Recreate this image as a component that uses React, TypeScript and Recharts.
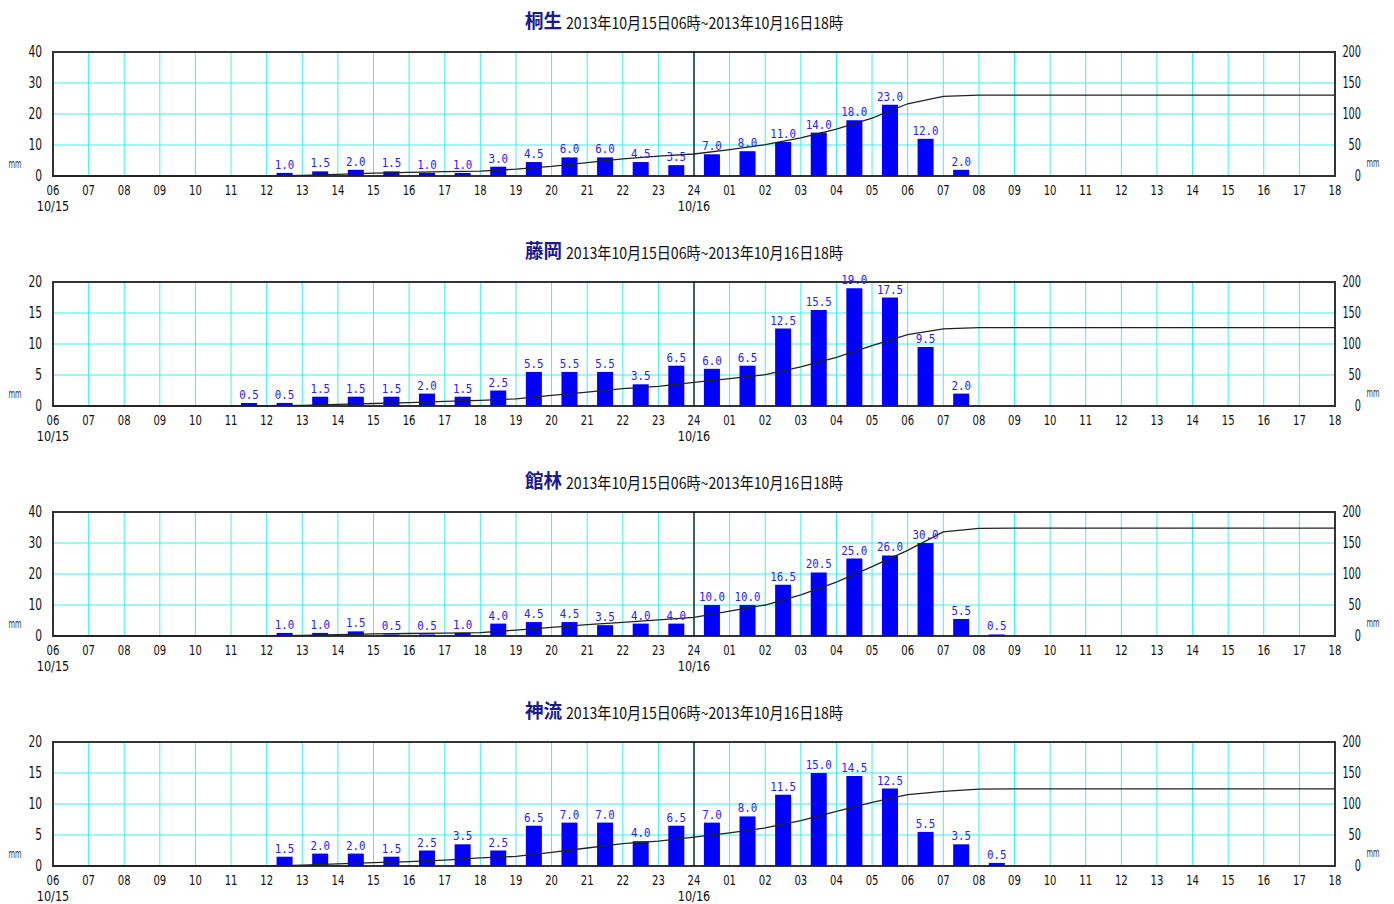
import React from "react";
import {
  ComposedChart,
  Bar,
  Line,
  XAxis,
  YAxis,
  CartesianGrid,
  ReferenceLine,
  ReferenceArea,
  LabelList,
} from "recharts";

// hour boundaries, 10/15 06時 .. 10/16 18時
const HOUR_LABELS = [
  "06", "07", "08", "09", "10", "11", "12", "13", "14", "15", "16", "17",
  "18", "19", "20", "21", "22", "23", "24", "01", "02", "03", "04", "05",
  "06", "07", "08", "09", "10", "11", "12", "13", "14", "15", "16", "17", "18",
];
const DATE_LABELS: Record<number, string> = { 0: "10/15", 18: "10/16" };
const HOUR_TICKS = HOUR_LABELS.map((_, i) => i);

// hourly rainfall (mm), one value per hour bin
const KIRYU = [
  0, 0, 0, 0, 0, 0, 1.0, 1.5, 2.0, 1.5, 1.0, 1.0,
  3.0, 4.5, 6.0, 6.0, 4.5, 3.5, 7.0, 8.0, 11.0, 14.0, 18.0, 23.0,
  12.0, 2.0, 0, 0, 0, 0, 0, 0, 0, 0, 0, 0,
];
const FUJIOKA = [
  0, 0, 0, 0, 0, 0.5, 0.5, 1.5, 1.5, 1.5, 2.0, 1.5,
  2.5, 5.5, 5.5, 5.5, 3.5, 6.5, 6.0, 6.5, 12.5, 15.5, 19.0, 17.5,
  9.5, 2.0, 0, 0, 0, 0, 0, 0, 0, 0, 0, 0,
];
const TATEBAYASHI = [
  0, 0, 0, 0, 0, 0, 1.0, 1.0, 1.5, 0.5, 0.5, 1.0,
  4.0, 4.5, 4.5, 3.5, 4.0, 4.0, 10.0, 10.0, 16.5, 20.5, 25.0, 26.0,
  30.0, 5.5, 0.5, 0, 0, 0, 0, 0, 0, 0, 0, 0,
];
const KANNA = [
  0, 0, 0, 0, 0, 0, 1.5, 2.0, 2.0, 1.5, 2.5, 3.5,
  2.5, 6.5, 7.0, 7.0, 4.0, 6.5, 7.0, 8.0, 11.5, 15.0, 14.5, 12.5,
  5.5, 3.5, 0.5, 0, 0, 0, 0, 0, 0, 0, 0, 0,
];

const LEFT_TICKS_40 = [0, 10, 20, 30, 40];
const LEFT_TICKS_20 = [0, 5, 10, 15, 20];
const RIGHT_TICKS = [0, 50, 100, 150, 200];

const PERIOD = "2013年10月15日06時~2013年10月16日18時";

const STATIONS = [
  { name: "桐生", rain: KIRYU, ticks: LEFT_TICKS_40 },
  { name: "藤岡", rain: FUJIOKA, ticks: LEFT_TICKS_20 },
  { name: "館林", rain: TATEBAYASHI, ticks: LEFT_TICKS_40 },
  { name: "神流", rain: KANNA, ticks: LEFT_TICKS_20 },
];

const AXIS_FONT = "'DejaVu Sans Condensed', 'Liberation Sans', sans-serif";
const CJK_FONT = "'Noto Sans CJK JP', 'Noto Sans CJK SC', sans-serif";
const W = 1394;
const H = 218;

// bars sit at bin centres, the running total at the bin edges
const buildData = (rain: number[]) => {
  const rows: { x: number; rain?: number; cum?: number }[] = [{ x: 0, cum: 0 }];
  let total = 0;
  rain.forEach((r, i) => {
    rows.push({ x: i + 0.5, rain: r });
    total += r;
    rows.push({ x: i + 1, cum: total });
  });
  return rows;
};

// narrow bitmap-ish digits: squeeze text to a fixed width per char
const AxisText = ({
  x, y, anchor, size, perChar, children,
}: { x: number; y: number; anchor: "start" | "middle" | "end"; size: number; perChar: number; children: string }) => (
  <text
    x={x}
    y={y}
    textAnchor={anchor}
    fontFamily={AXIS_FONT}
    fontSize={size}
    fill="#111"
    textLength={children.length * perChar}
    lengthAdjust="spacingAndGlyphs"
  >
    {children}
  </text>
);

const hourTick = (props: any) => {
  const { x, payload } = props;
  const date = DATE_LABELS[payload.value];
  return (
    <g>
      <AxisText x={x} y={195} anchor="middle" size={14} perChar={6.4}>{HOUR_LABELS[payload.value]}</AxisText>
      {date && <AxisText x={x} y={211} anchor="middle" size={14} perChar={6.5}>{date}</AxisText>}
    </g>
  );
};

const leftTick = (props: any) => (
  <AxisText x={42} y={props.y + 5} anchor="end" size={15} perChar={6.8}>{String(props.payload.value)}</AxisText>
);

const rightTick = (props: any) => (
  <AxisText x={1361} y={props.y + 5} anchor="end" size={15} perChar={6.2}>{String(props.payload.value)}</AxisText>
);

const valueLabel = (props: any) => {
  const { x, y, width, value } = props;
  if (!value) return null;
  const s = Number(value).toFixed(1);
  return (
    <text
      x={Number(x) + Number(width) / 2}
      y={Number(y) - 4}
      textAnchor="middle"
      fill="#2323ff"
      fontFamily="'DejaVu Sans Mono', monospace"
      fontSize={13}
      textLength={s.length * 6.5}
      lengthAdjust="spacingAndGlyphs"
    >
      {s}
    </text>
  );
};

function Panel({ name, rain, ticks, top }: { name: string; rain: number[]; ticks: number[]; top: number }) {
  const data = buildData(rain);
  const max = ticks[ticks.length - 1];
  return (
    <div style={{ position: "absolute", left: 0, top, width: W, height: H }}>
      <ComposedChart width={W} height={H} data={data} margin={{ top: 52, right: 0, bottom: 0, left: 0 }}>
        <CartesianGrid yAxisId="left" stroke="#3ff0f0" strokeWidth={1} />
        <XAxis
          type="number"
          dataKey="x"
          domain={[0, 36]}
          ticks={HOUR_TICKS}
          interval={0}
          tickLine={false}
          axisLine={false}
          height={H - 176}
          tick={hourTick}
        />
        <YAxis
          yAxisId="left"
          domain={[0, max]}
          ticks={ticks}
          width={53}
          tickLine={false}
          axisLine={false}
          tick={leftTick}
        />
        <YAxis
          yAxisId="right"
          orientation="right"
          domain={[0, 200]}
          ticks={RIGHT_TICKS}
          width={59}
          tickLine={false}
          axisLine={false}
          tick={rightTick}
        />
        <ReferenceLine yAxisId="left" x={18} stroke="#000" strokeWidth={1.2} />
        <Bar yAxisId="left" dataKey="rain" fill="#0000ff" barSize={18} isAnimationActive={false}>
          <LabelList dataKey="rain" content={valueLabel} />
        </Bar>
        <Line
          yAxisId="right"
          dataKey="cum"
          type="linear"
          stroke="#222"
          strokeWidth={1.3}
          dot={false}
          connectNulls
          isAnimationActive={false}
        />
        <ReferenceArea
          yAxisId="left"
          x1={0}
          x2={36}
          y1={0}
          y2={max}
          fill="none"
          stroke="#333"
          strokeWidth={2}
        />
      </ComposedChart>
      <svg width={W} height={H} style={{ position: "absolute", left: 0, top: 0, pointerEvents: "none" }}>
        <text
          x={525}
          y={28}
          fontFamily={CJK_FONT}
          fontSize={19}
          fontWeight="bold"
          fill="#1a1a8a"
          textLength={37}
          lengthAdjust="spacingAndGlyphs"
        >
          {name}
        </text>
        <text
          x={566}
          y={29}
          fontFamily={CJK_FONT}
          fontSize={16}
          fill="#111"
          textLength={277}
          lengthAdjust="spacingAndGlyphs"
        >
          {PERIOD}
        </text>
        <text x={15} y={168} textAnchor="middle" fontFamily={AXIS_FONT} fontSize={12} fill="#333" textLength={13} lengthAdjust="spacingAndGlyphs">mm</text>
        <text x={1373} y={167} textAnchor="middle" fontFamily={AXIS_FONT} fontSize={12} fill="#333" textLength={13} lengthAdjust="spacingAndGlyphs">mm</text>
      </svg>
    </div>
  );
}

export default function App() {
  return (
    <div style={{ position: "absolute", left: 0, top: 0, width: W, height: 904, overflow: "hidden", background: "#fff" }}>
      {STATIONS.map((s, i) => (
        <Panel key={s.name} name={s.name} rain={s.rain} ticks={s.ticks} top={i * 230} />
      ))}
    </div>
  );
}
